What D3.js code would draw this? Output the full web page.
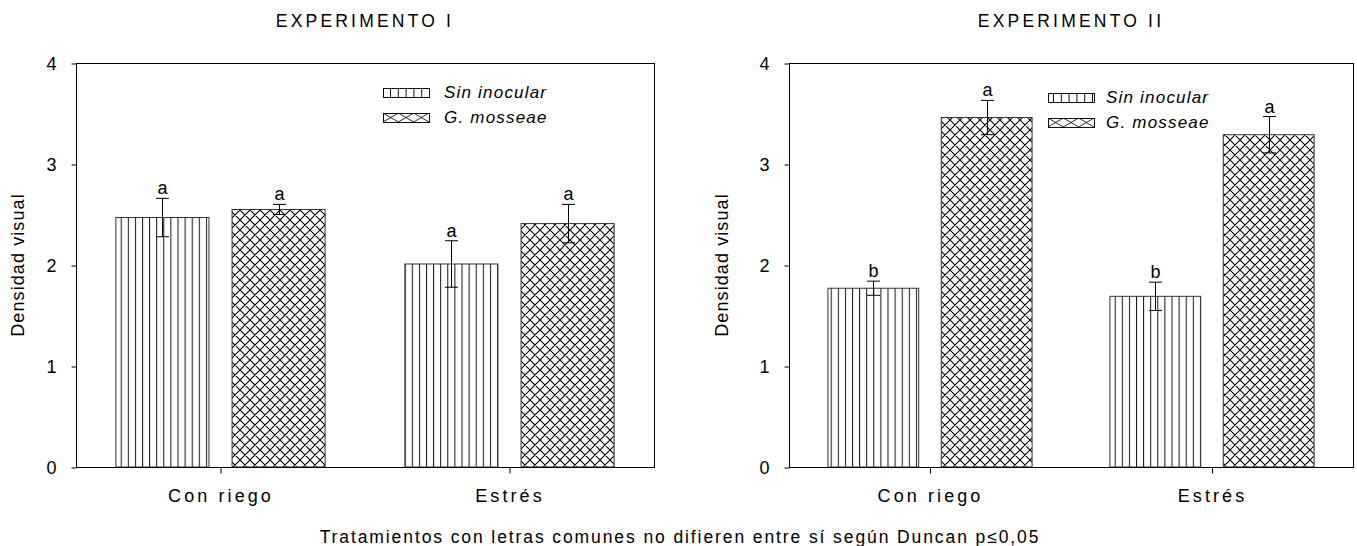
<!DOCTYPE html>
<html>
<head>
<meta charset="utf-8">
<script src="https://cdn.jsdelivr.net/npm/d3@7"></script>
<style>
  html, body { margin: 0; padding: 0; background: #fff; }
  svg { display: block; }
  text { font-family: "Liberation Sans", Arial, sans-serif; fill: #000; }
</style>
</head>
<body>
<svg id="chart" width="1357" height="546"></svg>
<script>
// Treatments and groups
const categories = ["Con riego", "Estrés"];
const seriesNames = ["Sin inocular", "G. mosseae"];
const yTicks = [0, 1, 2, 3, 4];

// Experiment I
const exp1Sin = [2.47, 2.01];
const exp1SinErr = [0.19, 0.23];
const exp1Gm = [2.55, 2.41];
const exp1GmErr = [0.05, 0.19];
const exp1SinLetters = ["a", "a"];
const exp1GmLetters = ["a", "a"];

// Experiment II
const exp2Sin = [1.77, 1.69];
const exp2SinErr = [0.07, 0.14];
const exp2Gm = [3.46, 3.29];
const exp2GmErr = [0.17, 0.18];
const exp2SinLetters = ["b", "b"];
const exp2GmLetters = ["a", "a"];

const footnote = "Tratamientos con letras comunes no difieren entre sí según Duncan p≤0,05";

const svg = d3.select("#chart");
const defs = svg.append("defs");

// Vertical stripes for "Sin inocular"
const stripe = defs.append("pattern")
  .attr("id", "stripes").attr("patternUnits", "userSpaceOnUse")
  .attr("width", 7.1).attr("height", 10);
stripe.append("rect").attr("width", 7.1).attr("height", 10).attr("fill", "#fff");
stripe.append("line").attr("x1", 0.5).attr("x2", 0.5).attr("y1", 0).attr("y2", 10)
  .attr("stroke", "#111").attr("stroke-width", 1);

// Cross-hatch for "G. mosseae"
const hatch = defs.append("pattern")
  .attr("id", "hatch").attr("patternUnits", "userSpaceOnUse")
  .attr("width", 10).attr("height", 10);
hatch.append("rect").attr("width", 10).attr("height", 10).attr("fill", "#fff");
hatch.append("path").attr("d", "M0,0 L10,10 M10,0 L0,10 M-1,9 L1,11 M9,-1 L11,1 M-1,1 L1,-1 M9,11 L11,9")
  .attr("stroke", "#000").attr("stroke-width", 1.05).attr("fill", "none");

// Legend swatch patterns (coarser)
const lstripe = defs.append("pattern")
  .attr("id", "lstripes").attr("patternUnits", "userSpaceOnUse")
  .attr("width", 7.8).attr("height", 9);
lstripe.append("rect").attr("width", 7.8).attr("height", 9).attr("fill", "#fff");
lstripe.append("line").attr("x1", 0.5).attr("x2", 0.5).attr("y1", 0).attr("y2", 9)
  .attr("stroke", "#111").attr("stroke-width", 1);

function legendHatch(id, x, y, w, h) {
  const n = 3, tw = w / n;
  const p = defs.append("pattern")
    .attr("id", id).attr("patternUnits", "userSpaceOnUse")
    .attr("x", x).attr("y", y).attr("width", tw).attr("height", h);
  p.append("rect").attr("width", tw).attr("height", h).attr("fill", "#fff");
  p.append("path").attr("d", `M0,0 L${tw},${h} M${tw},0 L0,${h}`)
    .attr("stroke", "#111").attr("stroke-width", 0.9).attr("fill", "none");
}

const panels = [
  {
    title: "EXPERIMENTO I",
    x0: 76, x1: 654, yTop: 63, yBot: 467,
    sin: exp1Sin, sinErr: exp1SinErr, gm: exp1Gm, gmErr: exp1GmErr,
    sinLetters: exp1SinLetters, gmLetters: exp1GmLetters,
    legendX: 383, legendY: 88, legendGap: 61, labelX: 18
  },
  {
    title: "EXPERIMENTO II",
    x0: 789, x1: 1353, yTop: 63, yBot: 467,
    sin: exp2Sin, sinErr: exp2SinErr, gm: exp2Gm, gmErr: exp2GmErr,
    sinLetters: exp2SinLetters, gmLetters: exp2GmLetters,
    legendX: 1048, legendY: 93, legendGap: 58, labelX: 722
  }
];

panels.forEach((p, pi) => {
  const g = svg.append("g");
  const x = d3.scaleBand().domain(categories).range([p.x0, p.x1]).paddingInner(0).paddingOuter(0);
  const y = d3.scaleLinear().domain([0, 4]).range([p.yBot, p.yTop]);
  const bw = x.bandwidth();
  const barW = bw * 0.322;
  const gap = bw * 0.08;

  const sub = d3.scaleOrdinal().domain(seriesNames)
    .range([-(gap / 2 + barW), gap / 2]);

  const rows = [];
  categories.forEach((c, i) => {
    rows.push({ cat: c, s: seriesNames[0], v: p.sin[i], e: p.sinErr[i], l: p.sinLetters[i], fill: "url(#stripes)" });
    rows.push({ cat: c, s: seriesNames[1], v: p.gm[i], e: p.gmErr[i], l: p.gmLetters[i], fill: "url(#hatch)" });
  });

  // bars
  g.selectAll("rect.bar").data(rows).join("rect")
    .attr("class", "bar")
    .attr("x", d => x(d.cat) + bw / 2 + sub(d.s))
    .attr("y", d => y(d.v))
    .attr("width", barW)
    .attr("height", d => y(0) - y(d.v))
    .attr("fill", d => d.fill)
    .attr("stroke", "#333").attr("stroke-width", 1);

  // error bars
  const cap = 6.5;
  const eb = g.selectAll("g.err").data(rows).join("g").attr("class", "err")
    .attr("transform", d => `translate(${Math.round(x(d.cat) + bw / 2 + sub(d.s) + barW / 2) + 0.5},0)`);
  eb.append("line").attr("y1", d => y(d.v + d.e)).attr("y2", d => y(d.v - d.e))
    .attr("stroke", "#000").attr("stroke-width", 1);
  eb.append("line").attr("x1", -cap).attr("x2", cap)
    .attr("y1", d => y(d.v + d.e)).attr("y2", d => y(d.v + d.e))
    .attr("stroke", "#000").attr("stroke-width", 1);
  eb.append("line").attr("x1", -cap).attr("x2", cap)
    .attr("y1", d => y(d.v - d.e)).attr("y2", d => y(d.v - d.e))
    .attr("stroke", "#000").attr("stroke-width", 1);
  eb.append("text").attr("text-anchor", "middle")
    .attr("y", d => y(d.v + d.e) - 4)
    .attr("font-size", 18)
    .text(d => d.l);

  // frame
  g.append("rect")
    .attr("x", p.x0 + 0.5).attr("y", p.yTop + 0.5)
    .attr("width", p.x1 - p.x0).attr("height", p.yBot - p.yTop)
    .attr("fill", "none").attr("stroke", "#000").attr("stroke-width", 1);

  // y axis
  const yAxis = d3.axisLeft(y).tickValues(yTicks).tickFormat(d3.format("d"))
    .tickSize(5).tickPadding(15);
  const ya = g.append("g").attr("transform", `translate(${p.x0 + 0.5},0.5)`).call(yAxis);
  ya.select(".domain").remove();
  ya.selectAll("text").attr("font-size", 18).attr("font-family", "Liberation Sans, Arial, sans-serif");

  // x axis
  const xAxis = d3.axisBottom(x).tickSize(6).tickPadding(16);
  const xa = g.append("g").attr("transform", `translate(0.5,${p.yBot + 0.5})`).call(xAxis);
  xa.select(".domain").remove();
  xa.selectAll("text").attr("font-size", 18).attr("letter-spacing", 3.1)
    .attr("font-family", "Liberation Sans, Arial, sans-serif");

  // titles
  g.append("text")
    .attr("x", (p.x0 + p.x1) / 2).attr("y", 27)
    .attr("text-anchor", "middle").attr("font-size", 17.5).attr("letter-spacing", 3.2)
    .text(p.title);
  g.append("text")
    .attr("transform", `translate(${p.labelX},${(p.yTop + p.yBot) / 2}) rotate(-90)`)
    .attr("text-anchor", "middle").attr("dy", "0.35em").attr("font-size", 18)
    .attr("letter-spacing", 1.1)
    .text("Densidad visual");

  // legend
  const sw = 46, sh = 9;
  legendHatch(`lhatch${pi}`, p.legendX, p.legendY + 25, sw, sh);
  const lg = g.append("g");
  [["url(#lstripes)", 0], [`url(#lhatch${pi})`, 25]].forEach(([f, dy], i) => {
    lg.append("rect").attr("x", p.legendX + 0.5).attr("y", p.legendY + dy + 0.5)
      .attr("width", sw).attr("height", sh).attr("fill", f)
      .attr("stroke", "#111").attr("stroke-width", 1);
    lg.append("text").attr("x", p.legendX + p.legendGap).attr("y", p.legendY + dy + 9.5)
      .attr("font-size", 17).attr("font-style", "italic").attr("letter-spacing", 1.2)
      .text(seriesNames[i]);
  });
});

svg.append("text")
  .attr("x", 680).attr("y", 543)
  .attr("text-anchor", "middle").attr("font-size", 17.5).attr("letter-spacing", 1.9)
  .text(footnote);
</script>
</body>
</html>
